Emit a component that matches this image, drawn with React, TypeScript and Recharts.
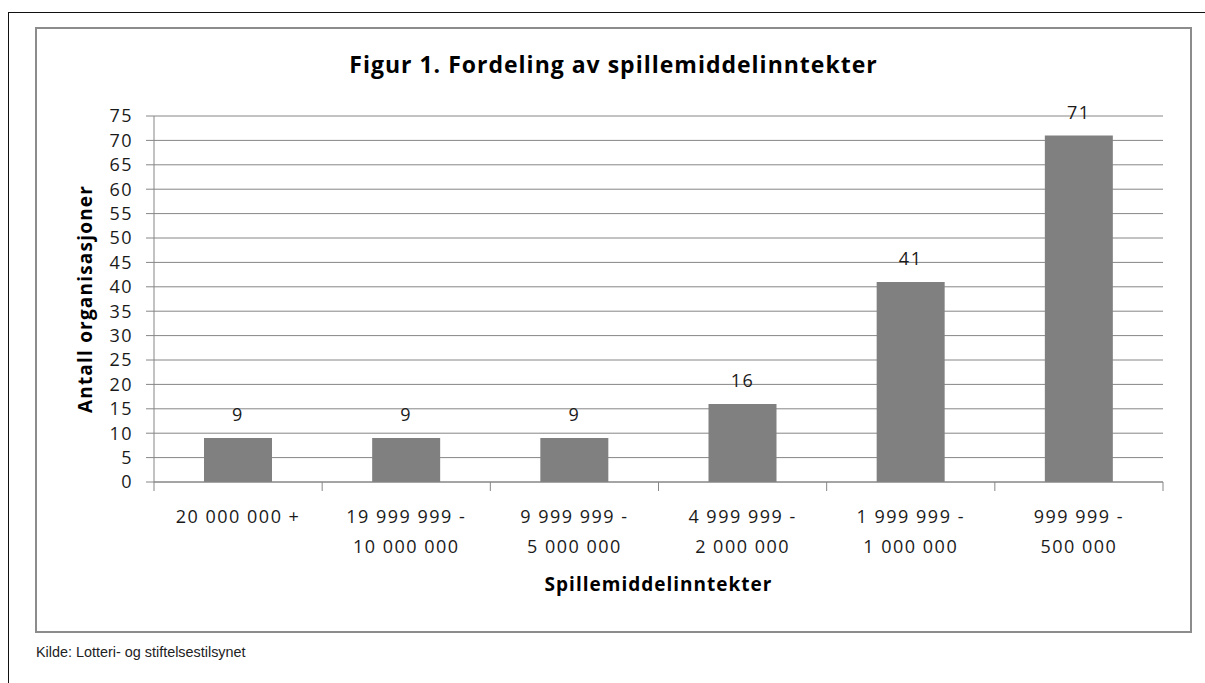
import { BarChart, Bar, XAxis, YAxis, CartesianGrid, LabelList, Label } from 'recharts';

const categories = [
  '20 000 000 +',
  '19 999 999 -\n10 000 000',
  '9 999 999 -\n5 000 000',
  '4 999 999 -\n2 000 000',
  '1 999 999 -\n1 000 000',
  '999 999 -\n500 000',
];
const counts = [9, 9, 9, 16, 41, 71];
const yTicks = [0, 5, 10, 15, 20, 25, 30, 35, 40, 45, 50, 55, 60, 65, 70, 75];

const data = categories.map((category, i) => ({ category, value: counts[i] }));

const LINE = '#868686';
const TEXT = '#1a1a1a';
const FONT = '"Open Sans", sans-serif';

function CategoryTick(props: any) {
  const { x, y, payload, index, visibleTicksCount, width } = props;
  const half = payload.offset ?? width / visibleTicksCount / 2;
  const lines = String(payload.value).split('\n');
  return (
    <g>
      <line x1={x - half} x2={x - half} y1={y} y2={y + 9} stroke={LINE} />
      {index === visibleTicksCount - 1 && (
        <line x1={x + half} x2={x + half} y1={y} y2={y + 9} stroke={LINE} />
      )}
      <text x={x} y={y} textAnchor="middle" fill={TEXT} fontSize={18}>
        {lines.map((l, i) => (
          <tspan key={i} x={x} dy={i === 0 ? 41 : 30}>
            {l}
          </tspan>
        ))}
      </text>
    </g>
  );
}

function YTitle(props: any) {
  const vb = props.viewBox;
  const cx = vb.x + 49;
  const cy = vb.y + vb.height / 2;
  return (
    <text
      x={cx}
      y={cy}
      transform={`rotate(-90 ${cx} ${cy})`}
      textAnchor="middle"
      dominantBaseline="central"
      fontWeight="bold"
      fontSize={19}
      fill="#000"
      style={{ letterSpacing: '1.2px' }}
    >
      Antall organisasjoner
    </text>
  );
}

function XTitle(props: any) {
  const vb = props.viewBox;
  return (
    <text
      x={vb.x + vb.width / 2}
      y={vb.y + 109}
      textAnchor="middle"
      fontWeight="bold"
      fontSize={19}
      fill="#000"
      style={{ letterSpacing: '1px' }}
    >
      Spillemiddelinntekter
    </text>
  );
}

export default function App() {
  return (
    <div
      style={{
        position: 'absolute',
        left: 0,
        top: 0,
        width: 1205,
        height: 683,
        overflow: 'hidden',
        background: '#fff',
      }}
    >
      <div
        style={{
          position: 'absolute',
          left: 8,
          top: 12,
          width: 1400,
          height: 800,
          borderTop: '1px solid #111',
          borderLeft: '1px solid #111',
        }}
      />
      <div
        style={{
          position: 'absolute',
          left: 35,
          top: 27,
          width: 1157,
          height: 606,
          boxSizing: 'border-box',
          border: '2px solid #8c8c8c',
        }}
      />
      <div
        style={{
          position: 'absolute',
          left: 36,
          top: 50,
          width: 1155,
          textAlign: 'center',
          fontFamily: FONT,
          fontWeight: 'bold',
          fontSize: 23,
          lineHeight: '28px',
          letterSpacing: '1px',
          color: '#000',
        }}
      >
        Figur 1. Fordeling av spillemiddelinntekter
      </div>
      <div
        style={{
          position: 'absolute',
          left: 36,
          top: 28,
          fontFamily: FONT,
          letterSpacing: '1.5px',
        }}
      >
        <BarChart
          width={1155}
          height={604}
          data={data}
          margin={{ top: 88, right: 28, left: 0, bottom: 0 }}
        >
          <CartesianGrid horizontal vertical={false} stroke={LINE} />
          <XAxis
            dataKey="category"
            height={150}
            interval={0}
            tickSize={0}
            tickMargin={0}
            tickLine={false}
            axisLine={{ stroke: LINE }}
            tick={<CategoryTick />}
          >
            <Label content={<XTitle />} />
          </XAxis>
          <YAxis
            width={118}
            domain={[0, 75]}
            ticks={yTicks}
            interval={0}
            tickSize={8}
            tickMargin={13}
            axisLine={{ stroke: LINE }}
            tickLine={{ stroke: LINE }}
            tick={{ fontSize: 18, fill: TEXT }}
          >
            <Label content={<YTitle />} />
          </YAxis>
          <Bar dataKey="value" fill="#808080" barSize={68} isAnimationActive={false}>
            <LabelList dataKey="value" position="top" offset={17} fill={TEXT} fontSize={18} />
          </Bar>
        </BarChart>
      </div>
      <div
        style={{
          position: 'absolute',
          left: 36,
          top: 643,
          fontFamily: '"Liberation Sans", Arial, sans-serif',
          fontSize: 14.4,
          lineHeight: '18px',
          color: '#222',
        }}
      >
        Kilde: Lotteri- og stiftelsestilsynet
      </div>
    </div>
  );
}
